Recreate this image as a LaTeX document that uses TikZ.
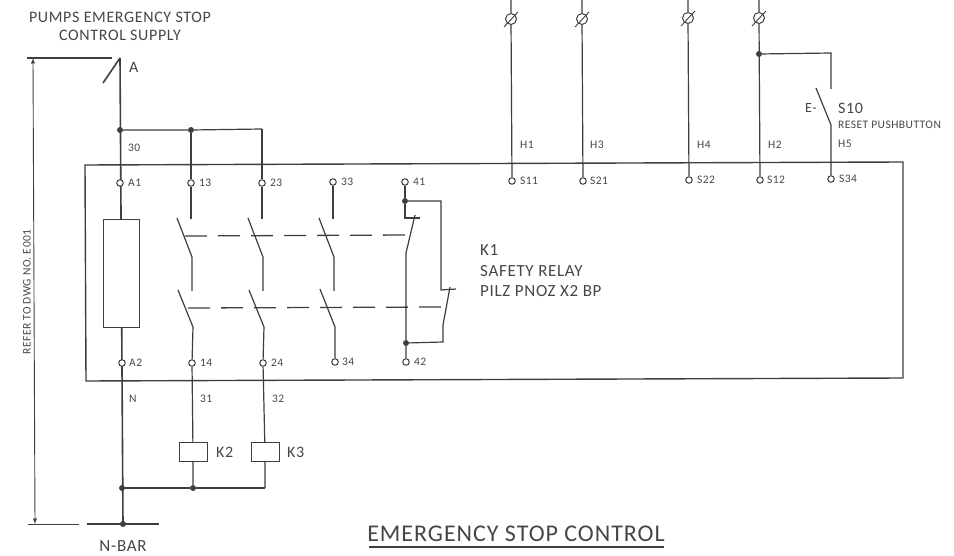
\documentclass[tikz,border=0pt]{standalone}
\usepackage{fontspec}
\setmainfont[LetterSpace=4]{Carlito}
\usepackage{tikz}
\usetikzlibrary{arrows,%
                shapes,positioning}
\definecolor{inkline}{RGB}{62,62,60}
\definecolor{inktext}{RGB}{70,70,68}
\tikzset{
  wire/.style={draw=inkline,line width=1.2pt},
  heavywire/.style={draw=inkline,line width=1.6pt},
  linkdash/.style={draw=inkline,line width=1.3pt,dash pattern=on 22pt off 11pt},
  term/.style={circle,draw=inkline,fill=white,line width=1pt,inner sep=0pt,minimum size=6.5pt},
  joint/.style={circle,fill=inkline,inner sep=0pt,minimum size=6pt},
  fuse/.style={circle,draw=inkline,fill=white,line width=1pt,inner sep=0pt,minimum size=11pt},
  tiny/.style={text=inktext,font=\fontsize{11.5}{12}\selectfont,inner sep=0pt},
  small/.style={text=inktext,font=\fontsize{14}{15}\selectfont,inner sep=0pt},
  mid/.style={text=inktext,font=\fontsize{17}{18}\selectfont,inner sep=0pt},
  big/.style={text=inktext,font=\fontsize{24}{25}\selectfont,inner sep=0pt},
  coil/.style={draw=inkline,fill=white,line width=1pt,inner sep=0pt}
}
\begin{document}
\begin{tikzpicture}[x=1pt,y=-1pt]
\useasboundingbox (0,0) rectangle (954,556);
% relay enclosure
\draw[wire,line width=1.4pt] (85,165) -- (903,162) -- (903,378) -- (86,381) -- cycle;
% supply side
\coordinate (Atop) at (120,58);
\coordinate (Abar) at (123,524);
\coordinate (Atip) at (103,83);
\node[joint] (J30) at (120,130) {};
\node[joint] (J13) at (191,130) {};
\coordinate (C23) at (262,129);
\node[joint] (JN) at (122,488) {};
\node[joint] (JK2) at (193,488) {};
\coordinate (C32) at (265,488);
\draw[heavywire] (Atop) -- (Abar);
\draw[heavywire] (Atop) -- (Atip);
\draw[wire] (J30) -- (J13) -- (C23);
\draw[wire] (JN) -- (JK2) -- (C32);
% dimension line
\coordinate (DimA) at (33,58);
\coordinate (DimB) at (35,524);
\coordinate (DimAL) at (27,58);
\coordinate (DimAR) at (112,58);
\coordinate (DimBL) at (28,524);
\coordinate (DimBR) at (79,524);
\coordinate (BarL) at (87,524);
\coordinate (BarR) at (159,524);
\draw[wire] (DimAL) -- (DimAR);
\draw[wire,line width=0.8pt] (DimBL) -- (DimBR);
\draw[wire,line width=0.9pt,latex-latex] (DimA) -- (DimB);
\draw[wire,line width=1.8pt] (BarL) -- (BarR);
\node[joint] (JBar) at (Abar) {};
% terminals top row
\node[term] (A1) at (120,183) {};
\node[term] (T13) at (191,183) {};
\node[term] (T23) at (262,183) {};
\node[term] (T33) at (333,182) {};
\node[term] (T41) at (405,182) {};
\node[term] (S11) at (512,181) {};
\node[term] (S21) at (583,181) {};
\node[term] (S22) at (689,180) {};
\node[term] (S12) at (760,180) {};
\node[term] (S34) at (831,179) {};
% terminals bottom row
\node[term] (A2) at (122,363) {};
\node[term] (T14) at (192,363) {};
\node[term] (T24) at (263,363) {};
\node[term] (T34) at (335,362) {};
\node[term] (T42) at (406,362) {};
% relay coil
\node[coil,minimum width=36pt,minimum height=108pt] (K1coil) at (121,274) {};
% incoming wires with fused links
\coordinate (W1) at (511,0);
\coordinate (W2) at (582,0);
\coordinate (W3) at (688,0);
\coordinate (W4) at (759,0);
\node[fuse] (F1) at (511,19) {};
\node[fuse] (F2) at (582,19) {};
\node[fuse] (F3) at (688,18) {};
\node[fuse] (F4) at (759,18) {};
\draw[wire,line width=0.9pt] (504,27) -- (518,12);
\draw[wire,line width=0.9pt] (575,27) -- (589,12);
\draw[wire,line width=0.9pt] (681,26) -- (695,11);
\draw[wire,line width=0.9pt] (752,26) -- (766,11);
\draw[wire] (W1) -- (F1) -- (S11);
\draw[wire] (W2) -- (F2) -- (S21);
\draw[wire] (W3) -- (F3) -- (S22);
\draw[wire] (W4) -- (F4) -- (S12);
% reset pushbutton
\node[joint] (J10) at (759,54) {};
\coordinate (C10) at (831,53);
\coordinate (C10a) at (831,89);
\coordinate (C10b) at (831,125);
\coordinate (C10c) at (816,88);
\draw[wire] (J10) -- (C10) -- (C10a);
\draw[wire] (C10c) -- (C10b) -- (S34);
% contacts 13-14
\coordinate (a1) at (191,219);
\coordinate (a2) at (177,218);
\coordinate (a3) at (192,257);
\coordinate (a4) at (192,291);
\coordinate (a5) at (178,290);
\coordinate (a6) at (193,327);
\draw[wire] (J13) -- (T13) -- (a1);
\draw[wire] (a2) -- (a3) -- (a4);
\draw[wire] (a5) -- (a6) -- (T14);
% contacts 23-24
\coordinate (b1) at (262,219);
\coordinate (b2) at (248,218);
\coordinate (b3) at (263,257);
\coordinate (b4) at (263,291);
\coordinate (b5) at (249,290);
\coordinate (b6) at (264,327);
\draw[wire] (C23) -- (T23) -- (b1);
\draw[wire] (b2) -- (b3) -- (b4);
\draw[wire] (b5) -- (b6) -- (T24);
% contacts 33-34
\coordinate (c1) at (333,219);
\coordinate (c2) at (319,218);
\coordinate (c3) at (334,257);
\coordinate (c4) at (334,291);
\coordinate (c5) at (320,289);
\coordinate (c6) at (335,327);
\draw[wire] (T33) -- (c1);
\draw[wire] (c2) -- (c3) -- (c4);
\draw[wire] (c5) -- (c6) -- (T34);
% contacts 41-42
\node[joint] (J41) at (405,201) {};
\node[joint] (J42) at (406,343) {};
\coordinate (d1) at (405,218);
\coordinate (d2) at (420,218);
\coordinate (d3) at (415,215);
\coordinate (d4) at (406,253);
\coordinate (e1) at (441,201);
\coordinate (e2) at (441,290);
\coordinate (e3) at (456,289);
\coordinate (e4) at (450,287);
\coordinate (e5) at (443,325);
\coordinate (e6) at (443,342);
\draw[wire] (T41) -- (J41) -- (d1) -- (d2);
\draw[wire] (d3) -- (d4) -- (J42) -- (T42);
\draw[wire] (J41) -- (e1) -- (e2) -- (e3);
\draw[wire] (e4) -- (e5) -- (e6) -- (J42);
% mechanical links
\coordinate (L1a) at (185,236);
\coordinate (L1b) at (408,235);
\coordinate (L2a) at (188,308);
\coordinate (L2b) at (443,307);
\draw[linkdash] (L1a) -- (L1b);
\draw[linkdash] (L2a) -- (L2b);
% K2 K3 coils
\node[coil,minimum width=28pt,minimum height=19pt] (K2) at (193,452) {};
\node[coil,minimum width=28pt,minimum height=19pt] (K3) at (265,452) {};
\draw[wire] (T14) -- (K2) -- (JK2);
\draw[wire] (T24) -- (K3) -- (C32);
% labels
\node[small,font=\fontsize{16}{17}\selectfont] (txtPumps) at (120,17) {PUMPS EMERGENCY STOP};
\node[small,font=\fontsize{16}{17}\selectfont] (txtSupply) at (120,35) {CONTROL SUPPLY};
\node[small,font=\fontsize{16}{17}\selectfont,anchor=west] (txtA) at (129,67) {A};
\node[tiny,anchor=west] (txt30) at (128,148) {30};
\node[tiny,anchor=west] (txtN) at (129,399) {N};
\node[tiny,anchor=west] (txt31) at (200,399) {31};
\node[tiny,anchor=west] (txt32) at (272,399) {32};
\node[tiny,anchor=west] (lA1) at (128,183) {A1};
\node[tiny,anchor=west] (l13) at (199,183) {13};
\node[tiny,anchor=west] (l23) at (270,183) {23};
\node[tiny,anchor=west] (l33) at (341,182) {33};
\node[tiny,anchor=west] (l41) at (413,182) {41};
\node[tiny,anchor=west] (lS11) at (520,181) {S11};
\node[tiny,anchor=west] (lS21) at (590,181) {S21};
\node[tiny,anchor=west] (lS22) at (697,180) {S22};
\node[tiny,anchor=west] (lS12) at (767,180) {S12};
\node[tiny,anchor=west] (lS34) at (839,179) {S34};
\node[tiny,anchor=west] (lA2) at (129,363) {A2};
\node[tiny,anchor=west] (l14) at (200,363) {14};
\node[tiny,anchor=west] (l24) at (271,363) {24};
\node[tiny,anchor=west] (l34) at (342,362) {34};
\node[tiny,anchor=west] (l42) at (414,362) {42};
\node[tiny,anchor=west] (lH1) at (520,145) {H1};
\node[tiny,anchor=west] (lH3) at (590,145) {H3};
\node[tiny,anchor=west] (lH4) at (697,145) {H4};
\node[tiny,anchor=west] (lH2) at (768,145) {H2};
\node[tiny,anchor=west] (lH5) at (838,144) {H5};
\node[small,anchor=west] (lE) at (805,108) {E-};
\node[mid,anchor=west,font=\fontsize{16}{17}\selectfont] (lS10) at (838,108) {S10};
\node[tiny,anchor=west] (lReset) at (838,125) {RESET PUSHBUTTON};
\node[mid,anchor=west] (lK1) at (480,250) {K1};
\node[mid,anchor=west] (lRelay) at (480,271) {SAFETY RELAY};
\node[mid,anchor=west] (lPilz) at (480,291) {PILZ PNOZ X2 BP};
\node[mid,anchor=west,font=\fontsize{16}{17}\selectfont] (lK2) at (216,452) {K2};
\node[mid,anchor=west,font=\fontsize{16}{17}\selectfont] (lK3) at (287,452) {K3};
\node[mid] (lBar) at (123,546) {N-BAR};
\node[tiny,rotate=90] (lRefer) at (27,292) {REFER TO DWG NO. E001};
\node[big] (lTitle) at (516,534) {EMERGENCY STOP CONTROL};
\coordinate (U1) at (369,547);
\coordinate (U2) at (664,547);
\draw[wire] (U1) -- (U2);
\end{tikzpicture}
\end{document}
